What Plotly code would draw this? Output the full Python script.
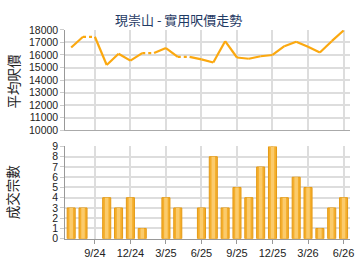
import plotly.graph_objects as go

months = ['7/24', '8/24', '9/24', '10/24', '11/24', '12/24', '1/25', '2/25', '3/25',
          '4/25', '5/25', '6/25', '7/25', '8/25', '9/25', '10/25', '11/25', '12/25',
          '1/26', '2/26', '3/26', '4/26', '5/26', '6/26']
price = [16600, 17450, None, 15200, 16100, 15550, 16150, None, 16550, 15850, None, 15650,
         15400, 17100, 15800, 15700, 15900, 16000, 16700, 17050, 16650, 16200, 17100, 17950]
deals = [3, 3, 0, 4, 3, 4, 1, 0, 4, 3, 0, 3, 8, 3, 5, 4, 7, 9, 4, 6, 5, 1, 3, 4]
tick_labels = ['9/24', '12/24', '3/25', '6/25', '9/25', '12/25', '3/26', '6/26']

W, H = 360, 270
idx = list(range(len(months)))
tickvals = [months.index(t) for t in tick_labels]

# carry forward missing months (drawn dotted, as in the source chart)
filled = []
last = None
for p in price:
    if p is not None:
        last = p
    filled.append(last)

sx, sy, dx, dy = [], [], [], []
for i in range(1, len(price)):
    if price[i] is not None:
        sx += [i - 1, i, None]
        sy += [filled[i - 1], price[i], None]
    else:
        dx += [i - 1, i, None]
        dy += [filled[i - 1], filled[i - 1], None]

bar_y = [d if d else None for d in deals]

LINE = '#FBA80F'
fig = go.Figure()
fig.add_trace(go.Scatter(x=sx, y=sy, mode='lines', line=dict(color=LINE, width=2.2),
                         xaxis='x', yaxis='y', cliponaxis=False, hoverinfo='skip'))
fig.add_trace(go.Scatter(x=dx, y=dy, mode='lines', line=dict(color=LINE, width=2.2, dash='dot'),
                         xaxis='x', yaxis='y', cliponaxis=False, hoverinfo='skip'))

fig.add_trace(go.Bar(x=idx, y=bar_y, width=0.68, marker=dict(color='#F4AE2C',
                     line=dict(color='#E59A14', width=1)), xaxis='x2', yaxis='y2'))
fig.add_trace(go.Bar(x=idx, y=bar_y, width=0.3, marker=dict(color='#FBCB6C', line=dict(width=0)),
                     xaxis='x2', yaxis='y2'))

def px_dom_x(a, b):
    return [a / W, b / W]

def px_dom_y(top, bottom):
    return [1 - bottom / H, 1 - top / H]

GRID = '#DDDDDD'
ytickfont = dict(family='Liberation Sans, Arial', size=10.5, color='#222222')
xtickfont = dict(family='Liberation Sans, Arial', size=11, color='#222222')
xr = [-0.5, 23.55]

fig.update_layout(
    width=W, height=H, margin=dict(l=0, r=0, t=0, b=0),
    paper_bgcolor='white', plot_bgcolor='white', showlegend=False, barmode='overlay',
    xaxis=dict(domain=px_dom_x(66, 354), range=xr, tickvals=tickvals, showticklabels=False,
               showgrid=True, gridcolor=GRID, gridwidth=1.5, zeroline=False,
               showline=True, linecolor='#AAAAAA', linewidth=1, anchor='y'),
    yaxis=dict(domain=px_dom_y(25, 130), range=[10000, 18000], dtick=1000, tickformat='d',
               showgrid=True, gridcolor=GRID, gridwidth=1.5, zeroline=False,
               showline=True, linecolor='#999999', linewidth=1, ticks='outside',
               ticklen=4, tickcolor='#CCCCCC', tickfont=ytickfont, anchor='x'),
    xaxis2=dict(domain=px_dom_x(66, 354), range=xr, tickvals=tickvals, ticktext=tick_labels,
                showgrid=True, gridcolor=GRID, gridwidth=1.5, zeroline=False,
                showline=True, linecolor='#999999', linewidth=1, ticks='outside',
                ticklen=4, tickcolor='#999999', tickfont=xtickfont, anchor='y2'),
    yaxis2=dict(domain=px_dom_y(147, 243.5), range=[0, 9], dtick=1,
                showgrid=True, gridcolor=GRID, gridwidth=1.5, zeroline=False,
                showline=True, linecolor='#999999', linewidth=1, ticks='outside',
                ticklen=4, tickcolor='#CCCCCC', tickfont=ytickfont, anchor='x2'),
)

cjk = 'Noto Sans CJK TC'
fig.add_annotation(text='現崇山 - 實用呎價走勢', x=180 / W, y=1 - 14 / H, xref='paper', yref='paper',
                   xanchor='center', yanchor='middle',
                   showarrow=False, font=dict(family=cjk, size=13, color='#1F3A64'))
fig.add_annotation(text='平均呎價', x=13 / W, y=1 - 78 / H, xref='paper', yref='paper',
                   xanchor='center', yanchor='middle',
                   showarrow=False, textangle=-90, font=dict(family=cjk, size=13.5, color='#222222'))
fig.add_annotation(text='成交宗數', x=13 / W, y=1 - 194 / H, xref='paper', yref='paper',
                   xanchor='center', yanchor='middle',
                   showarrow=False, textangle=-90, font=dict(family=cjk, size=13.5, color='#222222'))

fig.write_html('out.html')
